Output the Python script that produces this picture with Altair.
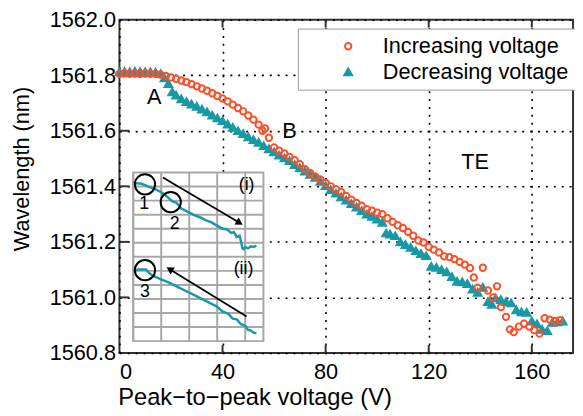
import altair as alt
import pandas as pd

# ---------------- main data ----------------
series_names = ["Increasing voltage", "Decreasing voltage"]

volt_inc = [0, 2, 4, 6, 8, 10, 12, 14, 16, 18, 20, 22, 24, 26, 28, 30, 32, 34, 36, 38,
            40, 42, 44, 46, 48, 50, 52, 54, 55.5, 56.5, 58, 60, 62, 64, 66, 68, 70, 72, 74, 76,
            78, 80, 82, 84, 86, 88, 90, 92, 94, 96, 98, 100, 102, 104, 106, 108, 110, 112, 114, 116,
            118, 120, 122, 124, 126, 128, 130, 132, 134, 136, 137.5, 139, 141, 143, 145, 146.5, 148, 150, 151.5, 153,
            155, 157, 159, 161, 163, 165, 167, 169, 171]
wl_inc = [1561.805, 1561.806, 1561.805, 1561.806, 1561.805, 1561.806, 1561.805, 1561.805, 1561.802, 1561.797,
          1561.792, 1561.787, 1561.781, 1561.775, 1561.768, 1561.760, 1561.752, 1561.744, 1561.735, 1561.725,
          1561.716, 1561.706, 1561.694, 1561.682, 1561.670, 1561.655, 1561.640, 1561.622, 1561.600, 1561.608,
          1561.575, 1561.540, 1561.528, 1561.518, 1561.506, 1561.494, 1561.480, 1561.462, 1561.448, 1561.435,
          1561.425, 1561.412, 1561.400, 1561.390, 1561.380, 1561.365, 1561.352, 1561.340, 1561.330, 1561.318,
          1561.312, 1561.305, 1561.300, 1561.285, 1561.272, 1561.260, 1561.250, 1561.236, 1561.222, 1561.205,
          1561.198, 1561.182, 1561.172, 1561.162, 1561.148, 1561.145, 1561.138, 1561.128, 1561.118, 1561.106,
          1561.072, 1561.035, 1561.107, 1561.025, 1561.000, 1561.040, 1560.965, 1560.930, 1560.885, 1560.875,
          1560.895, 1560.905, 1560.895, 1560.882, 1560.870, 1560.925, 1560.920, 1560.915, 1560.918]

volt_dec = [0, 2, 4, 6, 8, 10, 12, 14, 16, 17.5, 19, 20.5, 22, 24, 26, 28, 30, 32, 34, 36,
            38, 40, 42, 44, 46, 48, 50, 52, 54, 56, 58, 60, 62, 64, 66, 68, 70, 72, 74, 76,
            78, 80, 82, 84, 86, 88, 90, 92, 94, 96, 98, 100, 102, 103.5, 105, 107, 109, 111, 113, 115,
            117, 119, 121, 123, 125, 127, 129, 131, 133, 135, 137, 139, 141, 143, 144.5, 146, 148, 150, 152, 154,
            156, 158, 160, 162, 164, 166, 168, 170, 172]
wl_dec = [1561.812, 1561.813, 1561.812, 1561.814, 1561.813, 1561.812, 1561.812, 1561.810, 1561.806, 1561.790,
          1561.770, 1561.740, 1561.728, 1561.715, 1561.705, 1561.696, 1561.688, 1561.678, 1561.668, 1561.656,
          1561.646, 1561.636, 1561.624, 1561.612, 1561.600, 1561.590, 1561.578, 1561.568, 1561.558, 1561.546,
          1561.535, 1561.524, 1561.512, 1561.502, 1561.492, 1561.478, 1561.467, 1561.455, 1561.443, 1561.432,
          1561.418, 1561.402, 1561.388, 1561.375, 1561.362, 1561.350, 1561.338, 1561.325, 1561.312, 1561.300,
          1561.292, 1561.282, 1561.270, 1561.232, 1561.228, 1561.222, 1561.200, 1561.190, 1561.180, 1561.168,
          1561.158, 1561.150, 1561.112, 1561.108, 1561.100, 1561.092, 1561.075, 1561.058, 1561.056, 1561.050,
          1561.030, 1561.018, 1561.036, 1560.985, 1560.975, 1560.998, 1560.992, 1560.985, 1560.980, 1560.955,
          1560.948, 1560.946, 1560.915, 1560.905, 1560.885, 1560.880, 1560.910, 1560.912, 1560.915]

x_ticks = [0, 40, 80, 120, 160]
y_ticks = [1560.8, 1561.0, 1561.2, 1561.4, 1561.6, 1561.8, 1562.0]

# annotations in main data coordinates
ann_text = ["A", "B", "TE"]
ann_v = [13.5, 66, 138]
ann_w = [1561.722, 1561.60, 1561.486]

# ---------------- inset data (inset's own units) ----------------
inset_i_x = [0, 0.3, 0.55, 0.8, 1.0, 1.2, 1.4, 1.55, 1.7, 1.85, 2.0, 2.2, 2.4, 2.6, 2.8, 3.0, 3.2, 3.35,
             3.5, 3.6, 3.7, 3.8, 3.85, 3.9, 3.95, 4.0, 4.1, 4.2, 4.3, 4.4]
inset_i_y = [11.25, 11.2, 11.0, 10.8, 10.6, 10.3, 9.95, 9.85, 9.45, 9.3, 9.15, 8.95, 8.8, 8.6, 8.45, 8.2,
             8.0, 7.95, 7.7, 7.75, 7.4, 7.5, 7.1, 6.6, 6.55, 6.7, 6.6, 6.75, 6.7, 6.8]
inset_ii_x = [0, 0.2, 0.45, 0.6, 0.75, 1.0, 1.3, 1.6, 1.9, 2.2, 2.5, 2.8, 3.0, 3.2, 3.4, 3.55, 3.7, 3.85,
              4.0, 4.1, 4.2, 4.3, 4.4]
inset_ii_y = [5.0, 5.1, 5.1, 4.8, 4.6, 4.4, 4.15, 3.85, 3.55, 3.25, 2.95, 2.65, 2.45, 2.1, 1.95, 1.6, 1.55,
              1.2, 1.1, 0.8, 0.75, 0.6, 0.55]
inset_vgrid = [0, 1, 2, 3, 4]
inset_hgrid = [1, 2, 3, 4, 5, 6, 7, 8, 9, 10, 11]
inset_xmax = 4.65
inset_ymax = 12

circle_x = [0.42, 1.34, 0.42]
circle_y = [11.16, 9.89, 5.05]
num_text = ["1", "2", "3"]
num_x = [0.39, 1.48, 0.42]
num_y = [9.75, 8.35, 3.51]
panel_text = ["(i)", "(ii)"]
panel_x = [4.05, 3.94]
panel_y = [11.09, 5.12]
arrow_x1 = [1.06, 4.05]
arrow_y1 = [11.65, 1.75]
arrow_x2 = [3.80, 1.30]
arrow_y2 = [8.42, 5.12]
arrow_angle = [30.6, 211.6]

ORANGE = "#ff4f28"
TEAL = "#1799a6"
FONT = "Liberation Sans"

# ---------------- main chart ----------------
df = pd.concat([
    pd.DataFrame({"v": volt_dec, "w": wl_dec, "s": series_names[1]}),
    pd.DataFrame({"v": volt_inc, "w": wl_inc, "s": series_names[0]}),
])

xs = alt.Scale(domain=[0, 176], nice=False, zero=False)
ys = alt.Scale(domain=[1560.8, 1562.0], nice=False, zero=False)

leg = alt.Legend(title=None, orient="none", legendX=181, legendY=9, labelFontSize=22,
                 labelFont=FONT, padding=7, symbolOffset=33, labelOffset=24, rowPadding=4,
                 strokeColor="#999999", fillColor="white", symbolStrokeWidth=2,
                 labelColor="black", labelLimit=0)

points = alt.Chart(df).mark_point(strokeWidth=2, opacity=1, fillOpacity=1).encode(
    x=alt.X("v:Q", scale=xs, axis=alt.Axis(
        values=x_ticks, title="Peak−to−peak voltage (V)", grid=True, gridDash=[2, 6],
        gridColor="black", gridWidth=1.6, gridOpacity=1, ticks=False, domain=False,
        labelFontSize=22, labelPadding=9, labelColor="black", labelFont=FONT,
        titleFontSize=24, titleFont=FONT, titleFontWeight="normal", titleColor="black",
        titleX=137, titleY=52, titleBaseline="alphabetic", titleAlign="center")),
    y=alt.Y("w:Q", scale=ys, axis=alt.Axis(
        values=y_ticks, format=".1f", title="Wavelength (nm)", grid=True, gridDash=[2, 6],
        gridColor="black", gridWidth=1.6, gridOpacity=1, ticks=False, domain=False,
        labelFontSize=22, labelPadding=4, labelColor="black", labelFont=FONT,
        titleFontSize=22, titleFont=FONT, titleFontWeight="normal", titleColor="black",
        titleX=-87, titleY=151, titleBaseline="bottom", titleAngle=270, titleAlign="center")),
    stroke=alt.Stroke("s:N", scale=alt.Scale(domain=series_names, range=[ORANGE, TEAL]), legend=leg),
    fill=alt.Fill("s:N", scale=alt.Scale(domain=series_names, range=["transparent", TEAL]), legend=leg),
    shape=alt.Shape("s:N", scale=alt.Scale(domain=series_names, range=["circle", "triangle-up"]), legend=leg),
    size=alt.Size("s:N", scale=alt.Scale(domain=series_names, range=[42, 62]), legend=leg),
    order=alt.Order("s:N", sort="ascending"),
)

tick_df_x = pd.DataFrame({"v": x_ticks[1:]})
tick_df_y = pd.DataFrame({"w": y_ticks[1:-1]})
bottom_ticks = alt.Chart(tick_df_x).mark_rule(color="#333333", strokeWidth=2).encode(
    x=alt.X("v:Q", scale=xs), y=alt.value(338), y2=alt.value(330))
top_ticks = alt.Chart(tick_df_x).mark_rule(color="#333333", strokeWidth=2).encode(
    x=alt.X("v:Q", scale=xs), y=alt.value(0), y2=alt.value(8))
left_ticks = alt.Chart(tick_df_y).mark_rule(color="#333333", strokeWidth=2).encode(
    y=alt.Y("w:Q", scale=ys), x=alt.value(0), x2=alt.value(10))

ann_df = pd.DataFrame({"t": ann_text, "v": ann_v, "w": ann_w})
ann = alt.Chart(ann_df).mark_text(fontSize=22, font=FONT, color="black").encode(
    x=alt.X("v:Q", scale=xs), y=alt.Y("w:Q", scale=ys), text="t:N")

main = alt.layer(bottom_ticks, top_ticks, left_ticks, ann, points)

# ---------------- inset ----------------
ixs = alt.Scale(domain=[0, inset_xmax], range=[14, 146], nice=False, zero=False)
iys = alt.Scale(domain=[0, inset_ymax], range=[326, 155], nice=False, zero=False)

box_df = pd.DataFrame({"x": [0], "x2": [inset_xmax], "y": [0], "y2": [inset_ymax]})
box = alt.Chart(box_df).mark_rect(fill="white", stroke="#a8a8a8", strokeWidth=2).encode(
    x=alt.X("x:Q", scale=ixs, axis=None), x2="x2:Q",
    y=alt.Y("y:Q", scale=iys, axis=None), y2="y2:Q")

vg_df = pd.DataFrame({"x": inset_vgrid, "y": 0, "y2": inset_ymax})
vgrid = alt.Chart(vg_df).mark_rule(color="#a8a8a8", strokeWidth=2).encode(
    x=alt.X("x:Q", scale=ixs, axis=None),
    y=alt.Y("y:Q", scale=iys, axis=None), y2="y2:Q")
hg_df = pd.DataFrame({"y": inset_hgrid, "x": 0, "x2": inset_xmax})
hgrid = alt.Chart(hg_df).mark_rule(color="#a8a8a8", strokeWidth=2).encode(
    y=alt.Y("y:Q", scale=iys, axis=None),
    x=alt.X("x:Q", scale=ixs, axis=None), x2="x2:Q")

curve_df = pd.concat([
    pd.DataFrame({"x": inset_i_x, "y": inset_i_y, "p": "i", "k": range(len(inset_i_x))}),
    pd.DataFrame({"x": inset_ii_x, "y": inset_ii_y, "p": "ii", "k": range(len(inset_ii_x))}),
])
curves = alt.Chart(curve_df).mark_line(color=TEAL, strokeWidth=2.5).encode(
    x=alt.X("x:Q", scale=ixs, axis=None), y=alt.Y("y:Q", scale=iys, axis=None),
    detail="p:N", order="k:Q")

circ_df = pd.DataFrame({"x": circle_x, "y": circle_y})
circles = alt.Chart(circ_df).mark_point(shape="circle", size=420, stroke="black",
                                         strokeWidth=2, filled=False, opacity=1).encode(
    x=alt.X("x:Q", scale=ixs, axis=None), y=alt.Y("y:Q", scale=iys, axis=None))

num_df = pd.DataFrame({"t": num_text, "x": num_x, "y": num_y})
nums = alt.Chart(num_df).mark_text(fontSize=18, font=FONT, color="black").encode(
    x=alt.X("x:Q", scale=ixs, axis=None), y=alt.Y("y:Q", scale=iys, axis=None), text="t:N")

pan_df = pd.DataFrame({"t": panel_text, "x": panel_x, "y": panel_y})
pans = alt.Chart(pan_df).mark_text(fontSize=18, font=FONT, color="black").encode(
    x=alt.X("x:Q", scale=ixs, axis=None), y=alt.Y("y:Q", scale=iys, axis=None), text="t:N")

arr_df = pd.DataFrame({"x": arrow_x1, "y": arrow_y1, "x2": arrow_x2, "y2": arrow_y2, "a": arrow_angle})
arr_lines = alt.Chart(arr_df).mark_rule(color="black", strokeWidth=1.8).encode(
    x=alt.X("x:Q", scale=ixs, axis=None), y=alt.Y("y:Q", scale=iys, axis=None),
    x2="x2:Q", y2="y2:Q")
arr_heads = alt.Chart(arr_df).mark_point(shape="triangle-right", filled=True, color="black",
                                          size=70, opacity=1).encode(
    x=alt.X("x2:Q", scale=ixs, axis=None), y=alt.Y("y2:Q", scale=iys, axis=None),
    angle=alt.Angle("a:Q", scale=None))

inset = alt.layer(box, vgrid, hgrid, curves, circles, nums, pans, arr_lines, arr_heads)

chart = alt.layer(main, inset).resolve_scale(
    x="independent", y="independent"
).properties(
    width=460, height=338,
    autosize=alt.AutoSizeParams(type="none"),
    padding={"left": 113, "top": 9, "right": 2, "bottom": 55},
).configure(font=FONT).configure_view(stroke="#333333", strokeWidth=2)

chart.save("out.html", embed_options={"renderer": "svg", "actions": False})
